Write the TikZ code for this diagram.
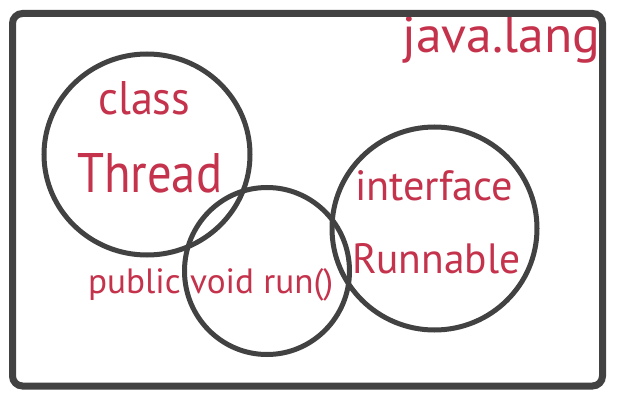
\documentclass[tikz,border=0pt]{standalone}
\usepackage{fontspec}
\setmainfont{PT Sans}
\usepackage{graphicx}
\usetikzlibrary{shapes.geometric}
\definecolor{txt}{RGB}{196,50,76}
\definecolor{ln}{RGB}{66,66,66}
\begin{document}
\begin{tikzpicture}[x=1pt,y=-1pt,
  lbl/.style={anchor=base west, inner sep=0pt, text=txt},
  ring/.style={draw=ln, line width=5pt, ellipse, inner sep=0pt},
  frame/.style={draw=ln, line width=7pt, rounded corners=10pt}]
\useasboundingbox (0,0) rectangle (621,401);
\fill[white] (0,0) rectangle (621,401);
% labels
\node[lbl] (jl) at (402,53) {\resizebox{198pt}{36pt}{java.lang}};
\node[lbl] (cl) at (98,115) {\resizebox{92pt}{33pt}{class}};
\node[lbl] (th) at (77,192) {\resizebox{145pt}{39pt}{Thread}};
\node[lbl] (itf) at (355,200) {\resizebox{158pt}{30pt}{interface}};
\node[lbl] (rn) at (352,273) {\resizebox{168pt}{30pt}{Runnable}};
\node[lbl] (pv) at (88,293) {\resizebox{245pt}{25pt}{public void run()}};
% frame
\draw[frame] (12.5,13.5) rectangle (602.5,386);
% circles
\node[ring, minimum width=206pt, minimum height=201pt] (thread) at (147,154.5) {};
\node[ring, minimum width=165pt, minimum height=167pt] (run) at (267,271) {};
\node[ring, minimum width=205pt, minimum height=203pt] (runnable) at (434.5,228.5) {};
\end{tikzpicture}
\end{document}
